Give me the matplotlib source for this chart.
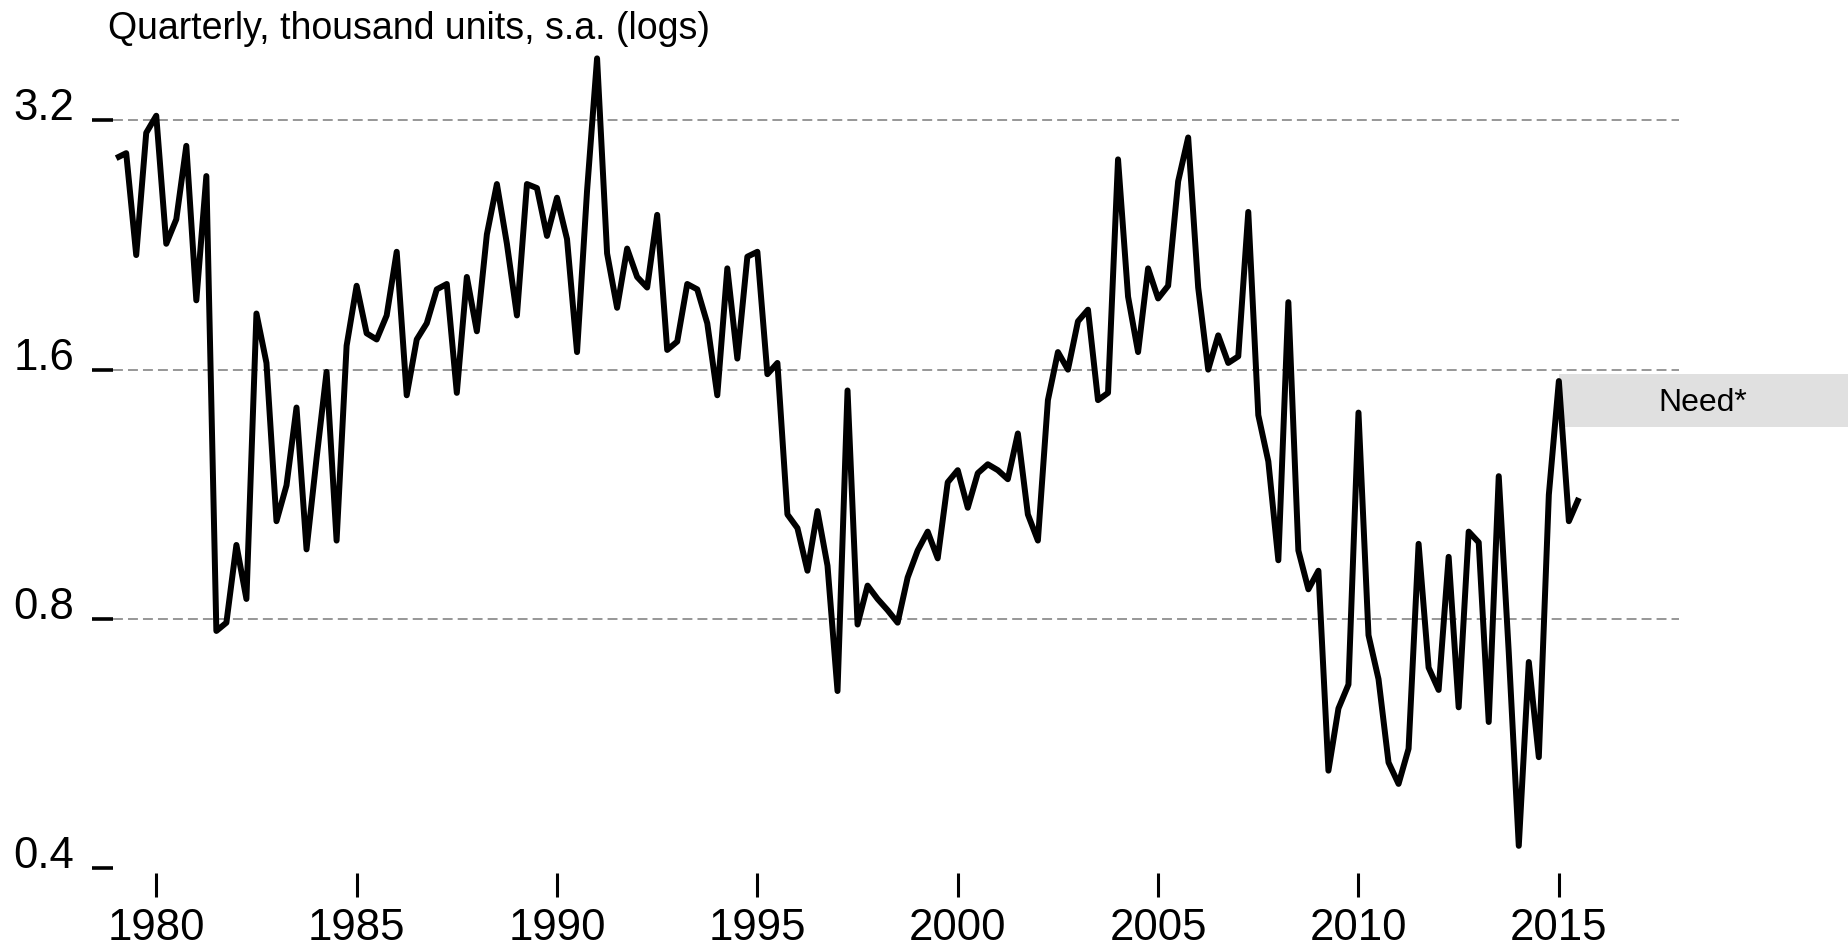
import numpy as np
import pandas as pd
import matplotlib
matplotlib.use("Agg")
import matplotlib.pyplot as plt
from matplotlib.ticker import NullLocator

plt.rcParams['font.family'] = ['Liberation Sans', 'DejaVu Sans']

# quarterly series, 1979Q1 .. 2015Q3 (thousand units, s.a.)
quarters = pd.period_range('1979Q1', '2015Q3', freq='Q')
units = [
    2.88, 2.92, 2.20, 3.09, 3.24, 2.27, 2.43, 2.98, 1.94, 2.74,
    0.774, 0.792, 0.983, 0.846, 1.87, 1.63, 1.05, 1.16, 1.44, 0.971,
    1.25, 1.59, 0.995, 1.71, 2.02, 1.77, 1.74, 1.86, 2.22, 1.49,
    1.74, 1.82, 2.00, 2.03, 1.50, 2.07, 1.78, 2.33, 2.68, 2.27,
    1.86, 2.68, 2.65, 2.32, 2.58, 2.30, 1.68, 2.63, 3.80, 2.21,
    1.90, 2.24, 2.07, 2.01, 2.46, 1.69, 1.73, 2.03, 2.00, 1.82,
    1.49, 2.12, 1.65, 2.19, 2.22, 1.58, 1.63, 1.07, 1.03, 0.915,
    1.08, 0.928, 0.655, 1.51, 0.788, 0.878, 0.846, 0.820, 0.792, 0.898,
    0.968, 1.02, 0.947, 1.17, 1.21, 1.09, 1.20, 1.23, 1.21, 1.18,
    1.34, 1.07, 0.995, 1.47, 1.68, 1.60, 1.83, 1.89, 1.47, 1.50,
    2.87, 1.96, 1.68, 2.12, 1.95, 2.02, 2.70, 3.05, 2.01, 1.60,
    1.76, 1.63, 1.66, 2.48, 1.41, 1.24, 0.942, 1.93, 0.968, 0.869,
    0.915, 0.525, 0.624, 0.667, 1.42, 0.765, 0.677, 0.537, 0.506, 0.558,
    0.986, 0.699, 0.657, 0.951, 0.626, 1.02, 0.990, 0.601, 1.19, 0.729,
    0.426, 0.710, 0.545, 1.13, 1.55, 1.05, 1.12,
]

# "Need*" band
need_start = 2015.0
need_end = 2022.3
need_lo = 1.364
need_hi = 1.579

y_ticks = [0.4, 0.8, 1.6, 3.2]
y_labels = ['0.4', '0.8', '1.6', '3.2']
grid_levels = [0.8, 1.6, 3.2]
x_ticks = [1980, 1985, 1990, 1995, 2000, 2005, 2010, 2015]

years = quarters.year + (quarters.quarter - 1) / 4.0

fig = plt.figure(figsize=(18.49, 9.48), dpi=100)
ax = fig.add_axes([0.0611, 0.0791, 0.8470, 0.8682])

ax.set_yscale('log', base=2)
ax.set_ylim(0.395, 3.89)
ax.set_xlim(1978.92, 2018.0)

for lev in grid_levels:
    ax.axhline(lev, color='#8f8f8f', lw=1.3, linestyle=(0, (5.5, 2.8)), zorder=1)

ax.fill_between([need_start, need_end], need_lo, need_hi, color='#e0e0e0',
                lw=0, clip_on=False, zorder=2)
ax.text(2018.6, 1.425, 'Need*', fontsize=23, ha='center', va='baseline',
        zorder=3)

ax.plot(years, units, color='black', lw=4.3, solid_joinstyle='round',
        solid_capstyle='butt', zorder=4)

ax.set_yticks(y_ticks)
ax.set_yticklabels(y_labels)
ax.yaxis.set_minor_locator(NullLocator())
for lab in ax.get_yticklabels():
    lab.set_va('baseline')
ax.set_xticks(x_ticks)
ax.set_xticklabels([str(x) for x in x_ticks])

ax.tick_params(axis='y', direction='out', length=15, width=2.6, pad=13,
               labelsize=31.5, color='black')
ax.tick_params(axis='x', direction='out', length=17, width=2.2, pad=8,
               labelsize=31.5, color='black')

for s in ax.spines.values():
    s.set_visible(False)

fig.text(0.0584, 0.9585, 'Quarterly, thousand units, s.a. (logs)',
         fontsize=27, ha='left', va='baseline')

fig.savefig('out.png', dpi=100)
